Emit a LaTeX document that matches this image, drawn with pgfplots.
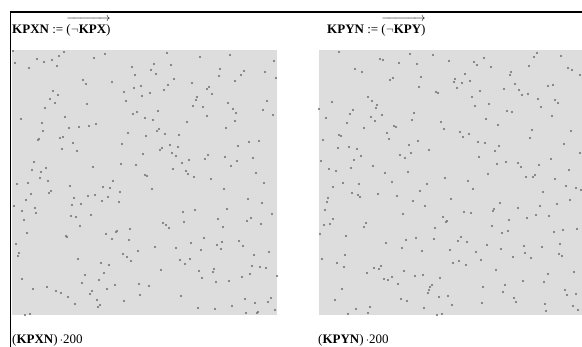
\documentclass[border=0pt]{standalone}
\usepackage{pgfplots}
\pgfplotsset{compat=1.18}
\usepackage{amsmath}
\usepackage{fontspec}
\setmainfont{Liberation Serif}
\definecolor{bgc}{RGB}{221,221,221}
\definecolor{dotc}{RGB}{50,50,50}
\pgfplotsset{panel/.style={
  width=265bp, height=265bp, scale only axis,
  ymin=50, ymax=315, y dir=reverse,
  axis background/.style={fill=bgc},
  axis line style={draw=none}, tick style={draw=none},
  xtick=\empty, ytick=\empty, clip=false,
  anchor=north west}}
\pgfplotsset{dots/.style={only marks, mark=*, mark size=0.95bp,
  mark options={fill=dotc, draw=black!45, line width=0.35bp}}}
\begin{document}
\begin{tikzpicture}
\path[use as bounding box] (0,0) rectangle (582bp,-347bp);
\begin{axis}[panel, xmin=12, xmax=277, at={(12bp,-50bp)}]
\addplot[dots] table {
13 51
64 52
59 56
105 54
94 58
37 59
52 60
44 62
15 63
57 66
29 68
132 67
135 75
151 70
83 80
86 84
112 82
141 86
134 88
53 91
124 92
58 95
150 93
50 99
142 96
126 101
55 103
87 104
45 108
137 112
133 114
65 117
21 119
145 118
42 123
96 124
89 126
79 127
69 128
43 131
128 133
63 137
60 138
146 136
39 139
38 140
73 143
122 144
62 149
77 151
143 154
34 162
121 164
136 165
46 168
93 167
32 170
41 172
145 175
147 176
40 178
48 181
113 181
17 184
28 183
70 186
103 187
110 188
167 53
200 57
230 55
274 61
154 64
171 65
156 74
220 69
244 71
265 72
219 76
241 75
276 78
174 79
235 81
192 83
168 85
209 87
207 89
164 90
212 94
197 97
196 100
267 101
228 103
193 106
203 107
233 109
263 110
158 111
236 113
207 116
273 115
153 120
187 122
235 121
226 128
159 129
157 131
165 134
179 135
249 142
259 141
170 145
178 147
238 146
162 148
160 150
172 153
176 156
208 155
225 157
253 158
189 160
205 159
237 161
182 163
231 166
173 169
186 171
188 174
256 173
194 177
211 179
264 183
152 189
224 189
31 194
49 193
51 191
88 196
95 195
74 198
108 197
120 192
26 200
102 201
119 202
14 206
72 205
81 204
35 208
22 211
36 213
71 216
76 217
91 215
24 220
80 226
130 229
27 233
117 231
116 232
106 234
66 236
67 237
112 239
129 240
16 244
138 251
19 253
18 256
123 254
127 257
78 259
131 261
101 263
109 265
104 273
85 275
22 279
99 280
82 283
115 285
139 284
149 286
33 289
47 287
56 291
61 293
92 291
107 289
90 294
140 295
68 297
97 300
124 301
75 304
100 305
98 307
30 314
25 315
248 199
262 203
183 212
195 210
227 209
272 214
218 219
251 218
247 221
184 222
261 224
163 223
166 225
169 228
223 227
204 238
239 241
191 243
222 242
217 245
243 246
155 247
176 248
221 249
201 250
269 252
254 255
180 260
190 259
185 264
252 266
260 267
266 268
161 270
214 269
199 271
213 272
250 274
277 276
202 278
242 277
229 281
216 282
181 296
245 299
271 298
268 302
255 303
198 308
215 309
232 306
275 310
258 312
257 313
246 313
};
\end{axis}
\begin{axis}[panel, xmin=319, xmax=582, width=263bp, at={(319bp,-50bp)}]
\addplot[dots] table {
339 52
380 59
383 60
410 54
433 55
449 61
399 63
417 64
355 69
362 72
421 77
393 78
390 80
419 87
436 92
438 93
368 97
372 101
332 102
377 105
376 108
319 109
353 110
350 114
414 113
382 115
371 117
326 118
375 121
412 120
347 123
441 122
394 126
396 127
364 128
444 129
387 133
339 135
341 136
389 139
323 140
418 141
409 145
349 147
338 148
357 149
429 150
411 153
400 155
361 156
405 158
354 160
321 161
373 166
351 168
329 169
336 171
385 173
408 172
445 178
343 183
359 184
392 182
427 184
474 62
477 65
484 58
491 67
537 53
534 57
561 56
529 66
568 68
572 70
580 75
465 74
455 79
454 82
462 83
470 81
511 72
510 75
515 84
457 88
480 91
504 89
519 90
548 86
553 85
522 95
528 94
472 97
538 99
555 100
558 103
489 104
475 106
541 107
507 111
512 112
552 116
486 119
498 125
460 132
469 134
463 137
532 130
571 131
530 138
478 142
485 143
564 144
499 146
495 151
580 153
479 157
551 159
506 162
497 164
518 163
521 167
539 165
569 170
488 174
468 181
526 177
533 177
535 175
555 179
333 187
352 193
358 195
360 197
378 194
397 196
420 191
328 198
327 202
413 201
425 206
325 210
403 214
443 217
447 221
446 222
333 219
330 224
324 225
366 223
364 227
435 228
320 234
346 236
406 240
416 238
434 239
386 243
402 248
450 250
422 251
345 255
322 259
337 263
344 267
374 268
379 269
381 266
404 271
367 273
415 276
423 275
440 278
392 277
384 279
388 280
398 284
432 285
430 287
429 290
428 293
342 289
448 296
439 297
401 299
407 301
335 300
424 308
370 307
356 309
368 313
348 314
437 315
442 314
473 189
566 186
576 188
581 190
543 192
451 199
570 200
500 203
557 204
540 206
518 208
494 209
493 211
464 212
471 213
536 215
549 216
527 218
509 220
492 226
577 229
563 230
554 232
508 231
502 233
461 237
458 241
467 242
560 244
487 245
524 246
542 247
501 249
476 252
525 253
559 254
562 256
513 257
531 258
481 260
459 261
453 263
466 265
496 270
574 272
548 274
523 281
544 282
505 285
483 287
503 292
565 290
567 295
576 294
514 298
516 302
482 303
545 304
452 305
573 306
546 311
578 310
};
\end{axis}
\draw[line width=1.2bp] (10.6bp,-347bp) -- (10.6bp,-12bp) -- (582bp,-12bp);
\begin{scope}[every node/.style={inner sep=0pt, anchor=base west, font=\fontsize{13bp}{15bp}\selectfont}]
\node at (12bp,-33bp) {\textbf{KPXN} := $\overrightarrow{\rule{0pt}{12bp}\text{(}\neg\text{\textbf{KPX})}}$};
\node at (327bp,-33bp) {\textbf{KPYN} := $\overrightarrow{\rule{0pt}{12bp}\text{(}\neg\text{\textbf{KPY})}}$};
\node at (12bp,-343bp) {(\textbf{KPXN})\,$\cdot$200};
\node at (318bp,-343bp) {(\textbf{KPYN})\,$\cdot$200};
\end{scope}
\end{tikzpicture}
\end{document}
